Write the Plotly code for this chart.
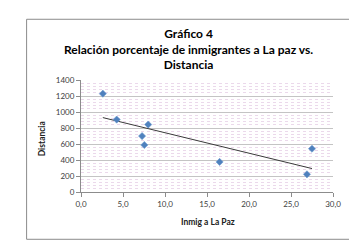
import numpy as np
import plotly.graph_objects as go

# Data
inmig_la_paz = [2.6, 4.25, 8.0, 7.27, 7.54, 16.5, 27.5, 26.9]
distancia = [1229, 905, 843, 699, 587, 376, 541, 221]
title_lines = ["Gráfico 4", "Relación porcentaje de inmigrantes a La paz vs.", "Distancia"]
x_title = "Inmig a La Paz"
y_title = "Distancia"

# Linear trendline (least squares), like Excel's
slope, intercept = np.polyfit(inmig_la_paz, distancia, 1)
tx = [min(inmig_la_paz), max(inmig_la_paz)]
ty = [slope * v + intercept for v in tx]

W, H = 357, 240
L, R, T, B = 72.5, 32, 72, 55.5
pw, ph = W - L - R, H - T - B

def px(x):
    return (x - L) / pw

def py(y):
    return (H - B - y) / ph

fig = go.Figure()
fig.add_trace(go.Scatter(x=tx, y=ty, mode="lines",
                         line=dict(color="#3a3a3a", width=1), hoverinfo="skip"))
fig.add_trace(go.Scatter(x=inmig_la_paz, y=distancia, mode="markers",
                         marker=dict(symbol="diamond", size=5.5, color="#4F81BD",
                                     line=dict(width=0.6, color="#6f9ad0"))))

fig.update_layout(
    width=W, height=H,
    margin=dict(l=L, r=R, t=T, b=B, pad=0),
    paper_bgcolor="white", plot_bgcolor="white",
    showlegend=False,
    separators=", ",
    font=dict(family="Lato, Liberation Sans, sans-serif", size=8, color="#404040"),
)
fig.update_xaxes(range=[0, 30], dtick=5, tickformat=".1f",
                 showgrid=False, zeroline=False,
                 showline=True, linecolor="#8c8c8c", linewidth=1,
                 ticks="outside", ticklen=4, tickcolor="#8c8c8c",
                 tickfont=dict(size=8, color="#404040"))
fig.update_yaxes(range=[0, 1400], dtick=200,
                 showgrid=True, gridcolor="#c4c4c4", gridwidth=1,
                 zeroline=False,
                 showline=True, linecolor="#8c8c8c", linewidth=1,
                 ticks="outside", ticklen=4, tickcolor="#8c8c8c",
                 tickfont=dict(size=8, color="#404040"),
                 minor=dict(dtick=40, showgrid=True, gridcolor="#ebd9eb",
                            griddash="dot", gridwidth=1))

# Chart frame
fig.add_shape(type="rect", xref="paper", yref="paper",
              x0=px(18), x1=px(343), y0=py(232), y1=py(11),
              line=dict(color="#8c8c8c", width=1), layer="below")

# Title
fig.add_annotation(text="<br>".join(title_lines), xref="paper", yref="paper",
                   x=px(180.5), y=py(40.5), xanchor="center", yanchor="middle",
                   showarrow=False,
                   font=dict(family="Lato, Liberation Sans, sans-serif", size=12,
                             color="#000000", weight="bold"))
# Axis titles
fig.add_annotation(text=x_title, xref="paper", yref="paper",
                   x=px(200), y=py(215), xanchor="center", yanchor="middle",
                   showarrow=False,
                   font=dict(size=8.5, color="#202020", weight="bold"))
fig.add_annotation(text=y_title, xref="paper", yref="paper", textangle=-90,
                   x=px(34.3), y=py(130.7), xanchor="center", yanchor="middle",
                   showarrow=False,
                   font=dict(size=8.5, color="#202020", weight="bold"))

fig.write_html("out.html")
